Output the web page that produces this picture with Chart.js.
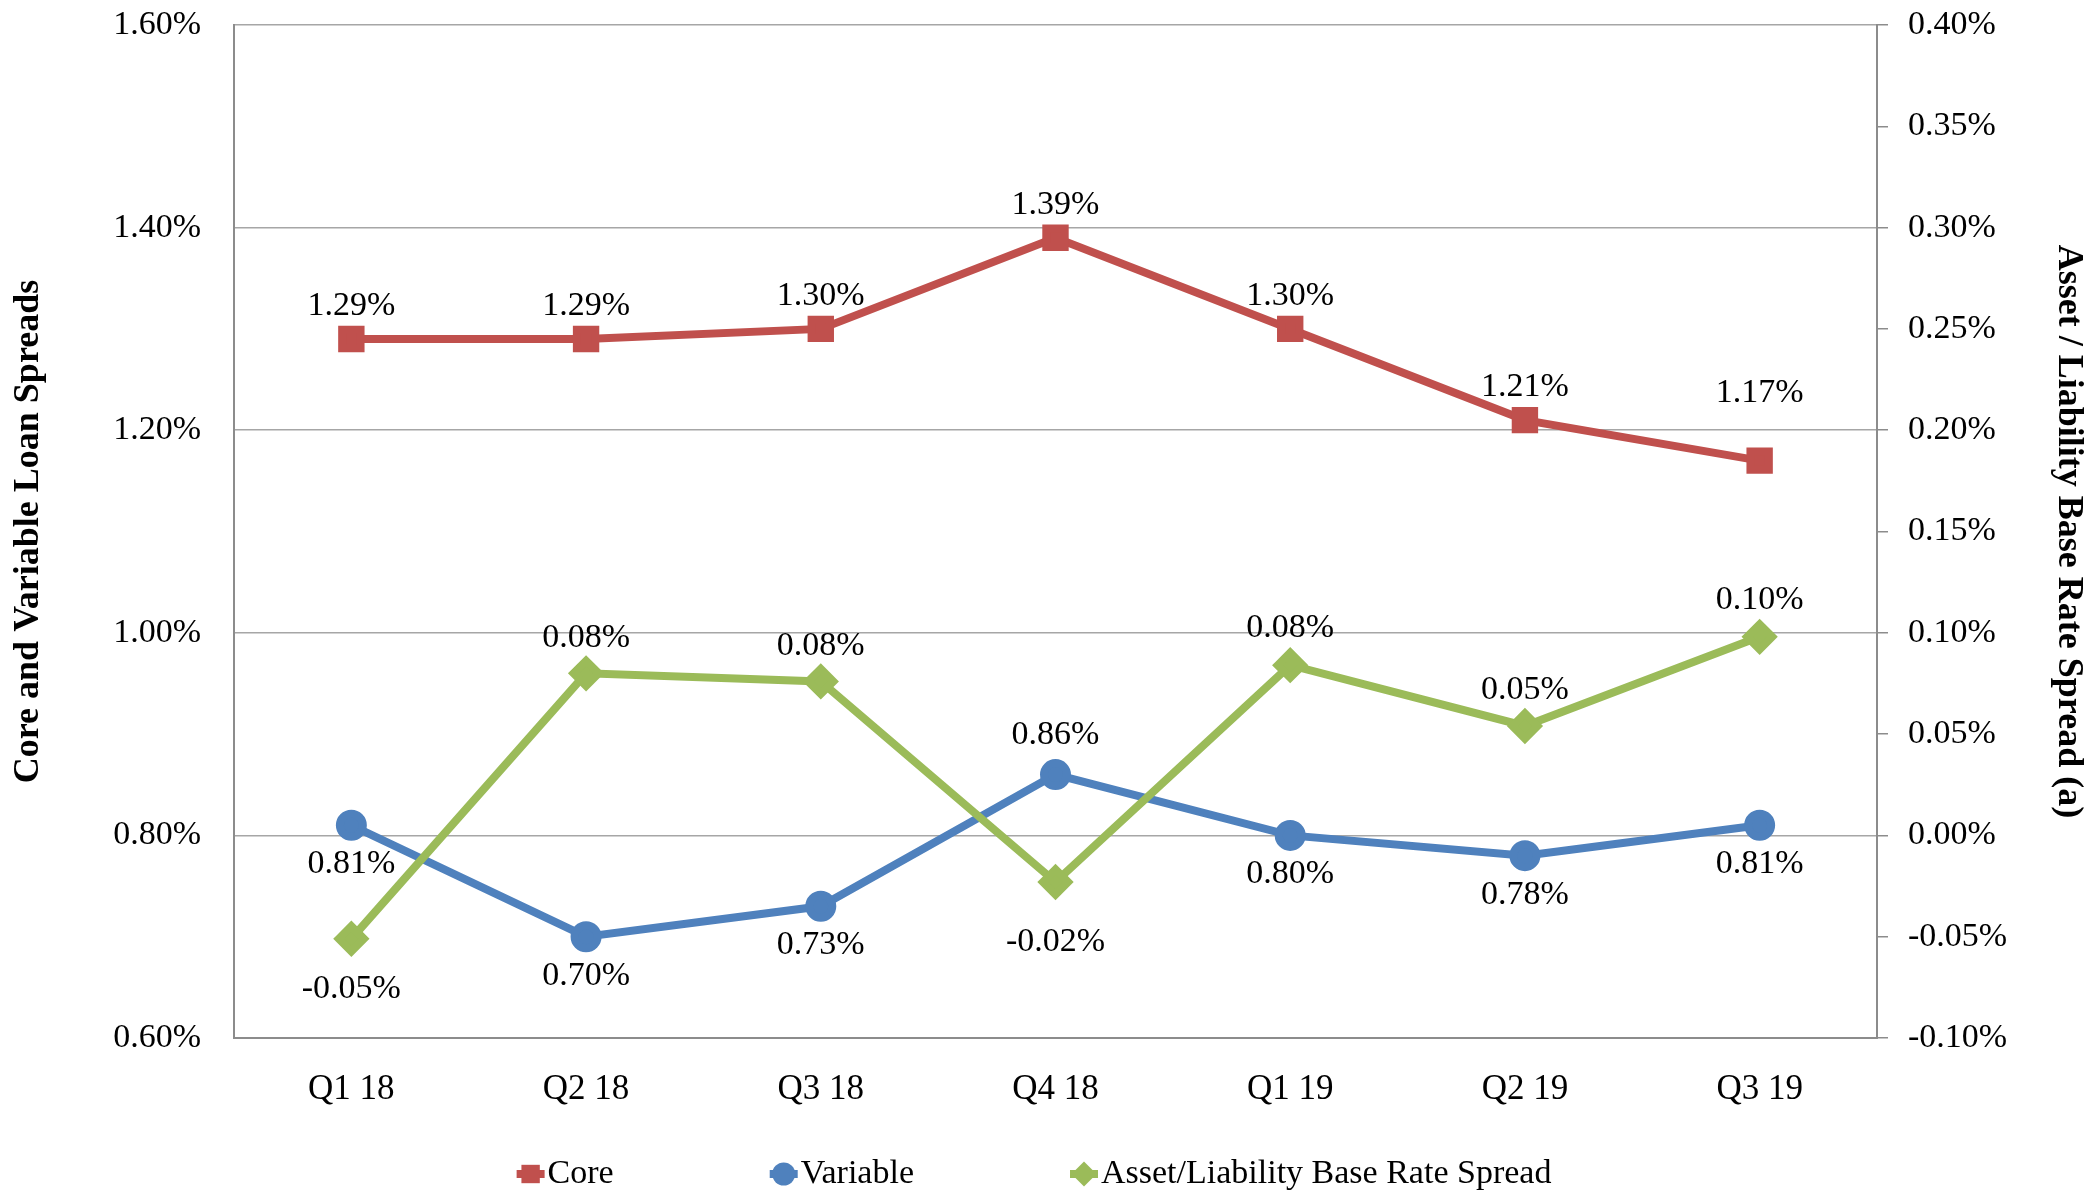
<!DOCTYPE html>
<html>
<head>
<meta charset="utf-8">
<title>Loan Spreads</title>
<script src="https://cdn.jsdelivr.net/npm/chart.js@4.4.0/dist/chart.umd.min.js"></script>
<style>
  body { margin: 0; background: #fff; }
</style>
</head>
<body>
<canvas id="spreadChart" width="2100" height="1204"></canvas>
<script>
var quarters = ["Q1 18", "Q2 18", "Q3 18", "Q4 18", "Q1 19", "Q2 19", "Q3 19"];
var coreSpread = [1.29, 1.29, 1.30, 1.39, 1.30, 1.21, 1.17];
var variableSpread = [0.81, 0.70, 0.73, 0.86, 0.80, 0.78, 0.81];
var baseRateSpread = [-0.051, 0.080, 0.076, -0.023, 0.084, 0.054, 0.098];
var leftRange = [0.60, 1.60, 0.20];
var rightRange = [-0.10, 0.40, 0.05];

var serif = '"Liberation Serif", "Times New Roman", serif';
var gridGrey = '#a6a6a6';
var axisGrey = '#8c8c8c';

function pct(v) {
  return v.toFixed(2) + '%';
}

// draw the value next to every point, above (+) or below (-) by labelShift px
const valueLabels = {
  id: 'valueLabels',
  afterDatasetsDraw(chart) {
    const ctx = chart.ctx;
    ctx.save();
    ctx.font = '34px ' + serif;
    ctx.fillStyle = '#000';
    ctx.textAlign = 'center';
    ctx.textBaseline = 'middle';
    chart.data.datasets.forEach((ds, i) => {
      const meta = chart.getDatasetMeta(i);
      meta.data.forEach((pt, j) => {
        ctx.fillText(pct(ds.data[j]), pt.x, pt.y - ds.labelShift[j]);
      });
    });
    ctx.restore();
  }
};

function drawMarker(ctx, style, x, y, r) {
  ctx.beginPath();
  if (style === 'rect') {
    const s = r * Math.SQRT1_2;
    ctx.rect(x - s, y - s, 2 * s, 2 * s);
  } else if (style === 'rectRot') {
    ctx.moveTo(x - r, y);
    ctx.lineTo(x, y - r);
    ctx.lineTo(x + r, y);
    ctx.lineTo(x, y + r);
    ctx.closePath();
  } else {
    ctx.arc(x, y, r, 0, Math.PI * 2);
  }
  ctx.fill();
}

// excel style legend: short line + marker, then text
const lineLegend = {
  id: 'lineLegend',
  afterDraw(chart) {
    const ctx = chart.ctx;
    const seg = 28, textGap = 3, itemGap = 156;
    ctx.save();
    ctx.font = '34px ' + serif;
    const widths = chart.data.datasets.map(ds => ctx.measureText(ds.label).width);
    let total = widths.reduce((s, w) => s + seg + textGap + w, 0) + itemGap * (widths.length - 1);
    let x = chart.width / 2 - 16 - total / 2;
    const y = chart.chartArea.bottom + 136;
    chart.data.datasets.forEach((ds, i) => {
      ctx.strokeStyle = ds.borderColor;
      ctx.fillStyle = ds.borderColor;
      ctx.lineWidth = 8;
      ctx.beginPath();
      ctx.moveTo(x, y);
      ctx.lineTo(x + seg, y);
      ctx.stroke();
      drawMarker(ctx, ds.pointStyle, x + seg / 2, y, ds.pointRadius);
      ctx.fillStyle = '#000';
      ctx.textAlign = 'left';
      ctx.textBaseline = 'middle';
      ctx.fillText(ds.label, x + seg + textGap, y);
      x += seg + textGap + widths[i] + itemGap;
    });
    ctx.restore();
  }
};

// keep the plot box where the reference has it
function fixVertical(width) {
  return function (scale) {
    scale.width = width;
    scale.paddingTop = 0;
    scale.paddingBottom = 0;
  };
}

new Chart('spreadChart', {
  type: 'line',
  data: {
    labels: quarters,
    datasets: [{
      label: 'Core',
      data: coreSpread,
      yAxisID: 'y',
      borderColor: '#c0504d',
      backgroundColor: '#c0504d',
      pointBackgroundColor: '#c0504d',
      pointBorderColor: '#c0504d',
      borderWidth: 8,
      pointStyle: 'rect',
      pointRadius: 13,
      order: 0,
      labelShift: [33, 33, 33, 33, 33, 33, 68]
    }, {
      label: 'Variable',
      data: variableSpread,
      yAxisID: 'y',
      borderColor: '#4f81bd',
      backgroundColor: '#4f81bd',
      pointBackgroundColor: '#4f81bd',
      pointBorderColor: '#4f81bd',
      borderWidth: 8,
      pointStyle: 'circle',
      pointRadius: 11.5,
      order: 2,
      labelShift: [-39, -39, -39, 40, -39, -39, -39]
    }, {
      label: 'Asset/Liability Base Rate Spread',
      data: baseRateSpread,
      yAxisID: 'y1',
      borderColor: '#9bbb59',
      backgroundColor: '#9bbb59',
      pointBackgroundColor: '#9bbb59',
      pointBorderColor: '#9bbb59',
      borderWidth: 8,
      pointStyle: 'rectRot',
      pointRadius: 12.5,
      order: 1,
      labelShift: [-50, 35, 35, -60, 37, 36, 37]
    }]
  },
  options: {
    responsive: false,
    animation: false,
    layout: { padding: { top: 25, left: 0, right: 0, bottom: 0 } },
    plugins: {
      legend: { display: false },
      tooltip: { enabled: false }
    },
    scales: {
      x: {
        offset: true,
        grid: { display: false },
        border: { display: true, color: axisGrey, width: 2 },
        ticks: { color: '#000', font: { family: serif, size: 35 }, padding: 23 },
        afterFit(scale) { scale.height = 166; }
      },
      y: {
        position: 'left',
        min: leftRange[0],
        max: leftRange[1],
        grid: { color: gridGrey, lineWidth: 1.5, drawTicks: false },
        border: { display: true, color: axisGrey, width: 2 },
        ticks: {
          stepSize: leftRange[2],
          color: '#000',
          font: { family: serif, size: 34 },
          padding: 33,
          callback: v => pct(v)
        },
        title: {
          display: true,
          text: 'Core and Variable Loan Spreads',
          color: '#000',
          font: { family: serif, size: 36, weight: 'bold' },
          padding: { top: 7, bottom: 0 }
        },
        afterFit: fixVertical(234)
      },
      y1: {
        position: 'right',
        min: rightRange[0],
        max: rightRange[1],
        grid: { drawOnChartArea: false, drawTicks: true, tickLength: 11, color: axisGrey, tickColor: axisGrey, lineWidth: 1.5 },
        border: { display: true, color: axisGrey, width: 2 },
        ticks: {
          stepSize: rightRange[2],
          color: '#000',
          font: { family: serif, size: 34 },
          padding: 20,
          callback: v => pct(v)
        },
        title: {
          display: true,
          text: 'Asset / Liability Base Rate Spread (a)',
          color: '#000',
          font: { family: serif, size: 36, weight: 'bold' },
          padding: { top: 10, bottom: 0 }
        },
        afterFit: fixVertical(223)
      }
    }
  },
  plugins: [valueLabels, lineLegend]
});
</script>
</body>
</html>
